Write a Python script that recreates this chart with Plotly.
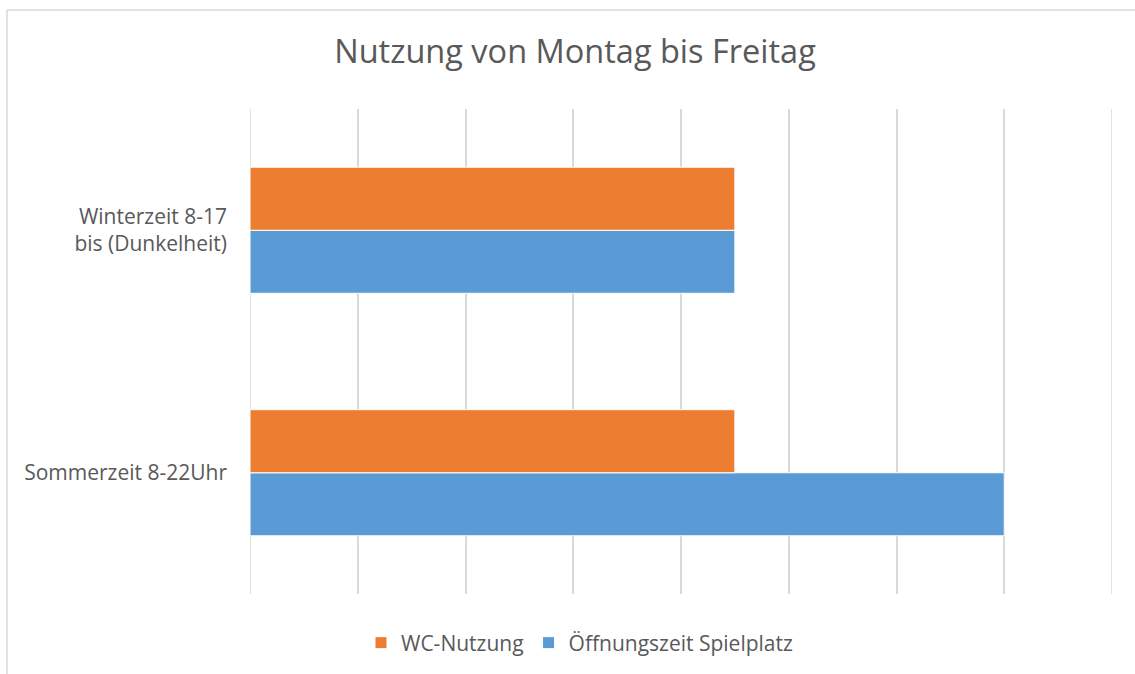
import plotly.graph_objects as go

categories = ["Sommerzeit 8-22Uhr", "Winterzeit 8-17<br>bis (Dunkelheit)"]
wc_nutzung = [9, 9]
oeffnungszeit = [14, 9]
series_names = ["WC-Nutzung", "Öffnungszeit Spielplatz"]
title_text = "Nutzung von Montag bis Freitag"
x_min, x_max, x_step = 0, 16, 2

FONT = "Open Sans"
TXT = "#595959"
GRID = "#d9d9d9"

fig = go.Figure()
fig.add_trace(go.Bar(
    y=categories, x=oeffnungszeit, orientation="h", name=series_names[1],
    marker=dict(color="#5B9BD5", line=dict(color="white", width=1)),
    legendrank=2,
))
fig.add_trace(go.Bar(
    y=categories, x=wc_nutzung, orientation="h", name=series_names[0],
    marker=dict(color="#ED7D31", line=dict(color="white", width=1)),
    legendrank=1,
))

W, H = 1135, 674
L, R, T, B = 250, 23, 109, 80
pw, ph = W - L - R, H - T - B

def px(x):
    return (x - L) / pw

def py(y):
    return (H - B - y) / ph

edge_lines = [
    dict(type="line", xref="x", yref="paper", x0=v, x1=v, y0=0, y1=1,
         layer="below", line=dict(color=GRID, width=1.5))
    for v in (x_min, x_max)
]

fig.update_layout(
    width=W, height=H,
    margin=dict(l=L, r=R, t=T, b=B),
    paper_bgcolor="white", plot_bgcolor="white",
    barmode="group", bargap=0.48, bargroupgap=0,
    font=dict(family=FONT, color=TXT, size=21),
    title=dict(text=title_text, x=575 / W, xanchor="center", xref="container",
               y=1 - 52 / H, yanchor="middle", yref="container",
               font=dict(size=32.5, color=TXT, family=FONT)),
    legend=dict(orientation="h", x=580 / W, xanchor="center", xref="container",
                y=1 - 643 / H, yanchor="middle", yref="container",
                font=dict(size=21, color=TXT), traceorder="normal"),
    xaxis=dict(range=[x_min, x_max], tickvals=list(range(x_min, x_max + 1, x_step)),
               showticklabels=False, showgrid=True,
               gridcolor=GRID, gridwidth=1.5, zeroline=False, showline=False, ticks=""),
    yaxis=dict(showgrid=False, zeroline=False, showline=False, ticks="",
               ticklabelstandoff=22, tickfont=dict(size=21, color=TXT)),
    shapes=edge_lines + [
        dict(type="line", xref="paper", yref="paper", x0=px(7), x1=px(1145),
             y0=py(10), y1=py(10), line=dict(color=GRID, width=1.5)),
        dict(type="line", xref="paper", yref="paper", x0=px(7), x1=px(7),
             y0=py(10), y1=py(690), line=dict(color=GRID, width=1.5)),
    ],
)

fig.write_html("out.html", config={"displayModeBar": False},
               post_script="document.body.style.margin='0';document.body.style.overflow='hidden';")
